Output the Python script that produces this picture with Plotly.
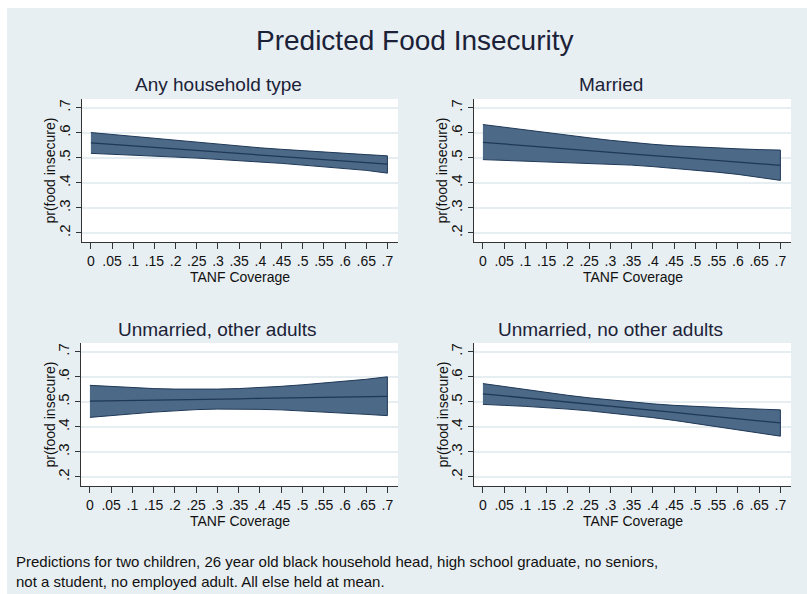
import plotly.graph_objects as go

# ---- data -------------------------------------------------------------
tanf = [0, .05, .1, .15, .2, .25, .3, .35, .4, .45, .5, .55, .6, .65, .7]
x_tick_vals = [0, .05, .1, .15, .2, .25, .3, .35, .4, .45, .5, .55, .6, .65, .7]
x_tick_text = ["0", ".05", ".1", ".15", ".2", ".25", ".3", ".35", ".4", ".45",
               ".5", ".55", ".6", ".65", ".7"]
y_tick_vals = [.2, .3, .4, .5, .6, .7]
y_tick_text = [".2", ".3", ".4", ".5", ".6", ".7"]

panel_titles = ["Any household type", "Married",
                "Unmarried, other adults", "Unmarried, no other adults"]

any_fit = [.560, .554, .548, .542, .536, .530, .524, .518, .512, .505, .499, .493, .487, .481, .475]
any_hi = [.601, .593, .585, .577, .569, .561, .554, .547, .540, .534, .528, .523, .518, .513, .508]
any_lo = [.518, .515, .511, .507, .503, .499, .494, .489, .484, .478, .471, .465, .458, .450, .439]

mar_fit = [.562, .555, .549, .542, .536, .529, .522, .516, .509, .503, .496, .490, .483, .477, .470]
mar_hi = [.633, .622, .611, .600, .590, .580, .570, .561, .554, .548, .543, .539, .536, .533, .531]
mar_lo = [.493, .490, .487, .484, .481, .478, .474, .471, .465, .458, .451, .443, .434, .423, .410]

oth_fit = [.503, .504, .506, .507, .508, .510, .511, .512, .514, .515, .516, .518, .519, .520, .522]
oth_hi = [.566, .561, .556, .553, .551, .550, .551, .553, .557, .562, .568, .575, .582, .590, .600]
oth_lo = [.438, .445, .452, .459, .465, .469, .471, .471, .470, .468, .464, .460, .455, .450, .445]

noa_fit = [.532, .524, .515, .507, .499, .491, .482, .474, .466, .458, .449, .441, .433, .424, .416]
noa_hi = [.573, .561, .549, .537, .526, .516, .507, .499, .492, .486, .481, .477, .474, .471, .468]
noa_lo = [.490, .486, .482, .477, .471, .464, .456, .447, .437, .426, .414, .402, .389, .376, .363]

panels = [(any_fit, any_hi, any_lo), (mar_fit, mar_hi, mar_lo),
          (oth_fit, oth_hi, oth_lo), (noa_fit, noa_hi, noa_lo)]

main_title = "Predicted Food Insecurity"
x_title = "TANF Coverage"
y_title = "pr(food insecure)"
note = ("Predictions for two children, 26 year old black household head, high school graduate, no seniors,<br>"
        "not a student, no employed adult. All else held at mean.")

# ---- styling ----------------------------------------------------------
W, H = 807, 594
BG = "#e8eff2"
BAND = "#4c6988"
EDGE = "#1f3856"
TXT = "#111111"
TITLE_C = "#1b2238"
FONT = "Liberation Sans, Arial, Helvetica, sans-serif"

# plot areas in pixels: (left, right, top, bottom)
boxes = [(82, 398, 99, 242), (474, 791, 99, 242),
         (81, 398, 343, 486), (474, 791, 343, 486)]


def px_x(p):
    return p / W


def px_y(p):
    return 1 - p / H


fig = go.Figure()
annotations = []

for i, ((fit, hi, lo), (l, r, t, b)) in enumerate(zip(panels, boxes)):
    n = i + 1
    xa = "x" if n == 1 else f"x{n}"
    ya = "y" if n == 1 else f"y{n}"
    # confidence band as a closed polygon
    fig.add_trace(go.Scatter(
        x=tanf + tanf[::-1], y=hi + lo[::-1], fill="toself", mode="lines",
        fillcolor=BAND, line=dict(color=EDGE, width=1),
        xaxis=xa, yaxis=ya, showlegend=False, hoverinfo="skip"))
    # predicted line
    fig.add_trace(go.Scatter(
        x=tanf, y=fit, mode="lines", line=dict(color=EDGE, width=1.3),
        xaxis=xa, yaxis=ya, showlegend=False))

    suffix = "" if n == 1 else str(n)
    fig.layout["xaxis" + suffix] = dict(
        domain=[px_x(l), px_x(r)], range=[-0.021, 0.725], anchor=ya,
        tickvals=x_tick_vals, ticktext=x_tick_text, ticks="outside",
        ticklen=6, tickwidth=1, tickcolor="#333333", showline=True,
        linecolor="#333333", linewidth=1, showgrid=False, zeroline=False,
        tickfont=dict(family=FONT, size=14, color=TXT), fixedrange=True)
    fig.layout["yaxis" + suffix] = dict(
        domain=[px_y(b), px_y(t)], range=[0.164, 0.735], anchor=xa,
        tickvals=y_tick_vals, ticktext=y_tick_text, ticks="outside",
        ticklen=5, tickwidth=1, tickcolor="#333333", showline=True,
        linecolor="#333333", linewidth=1, showgrid=True,
        gridcolor="#e6eef1", gridwidth=1.5, zeroline=False, tickangle=-90,
        tickfont=dict(family=FONT, size=15, color=TXT), fixedrange=True)

    # panel title
    annotations.append(dict(
        text=panel_titles[i], x=px_x((l + r) / 2 - 22), y=px_y(t - 14),
        xref="paper", yref="paper", xanchor="center", yanchor="middle",
        showarrow=False, font=dict(family=FONT, size=19, color=TITLE_C)))
    # x axis title
    annotations.append(dict(
        text=x_title, x=px_x((l + r) / 2), y=px_y(b + 35),
        xref="paper", yref="paper", xanchor="center", yanchor="middle",
        showarrow=False, font=dict(family=FONT, size=14, color=TXT)))
    # y axis title
    annotations.append(dict(
        text=y_title, x=px_x(l - 32), y=px_y((t + b) / 2),
        xref="paper", yref="paper", xanchor="center", yanchor="middle",
        textangle=-90, showarrow=False,
        font=dict(family=FONT, size=14, color=TXT)))

annotations.append(dict(
    text=main_title, x=px_x(415), y=px_y(40), xref="paper", yref="paper",
    xanchor="center", yanchor="middle", showarrow=False,
    font=dict(family=FONT, size=28, color=TITLE_C)))
annotations.append(dict(
    text=note, x=px_x(14), y=px_y(571), xref="paper", yref="paper",
    xanchor="left", yanchor="middle", align="left", showarrow=False,
    font=dict(family=FONT, size=15, color=TXT)))

# thin white strips along the top and left edges of the page
shapes = [
    dict(type="rect", xref="paper", yref="paper", x0=0, x1=1,
         y0=px_y(8), y1=1, fillcolor="white", line=dict(width=0), layer="below"),
    dict(type="rect", xref="paper", yref="paper", x0=0, x1=px_x(7),
         y0=0, y1=1, fillcolor="white", line=dict(width=0), layer="below"),
]

fig.update_layout(
    width=W, height=H, margin=dict(l=0, r=0, t=0, b=0),
    paper_bgcolor=BG, plot_bgcolor="white",
    annotations=annotations, shapes=shapes, showlegend=False,
    font=dict(family=FONT, color=TXT))

fig.write_html("out.html", config={"displayModeBar": False})
